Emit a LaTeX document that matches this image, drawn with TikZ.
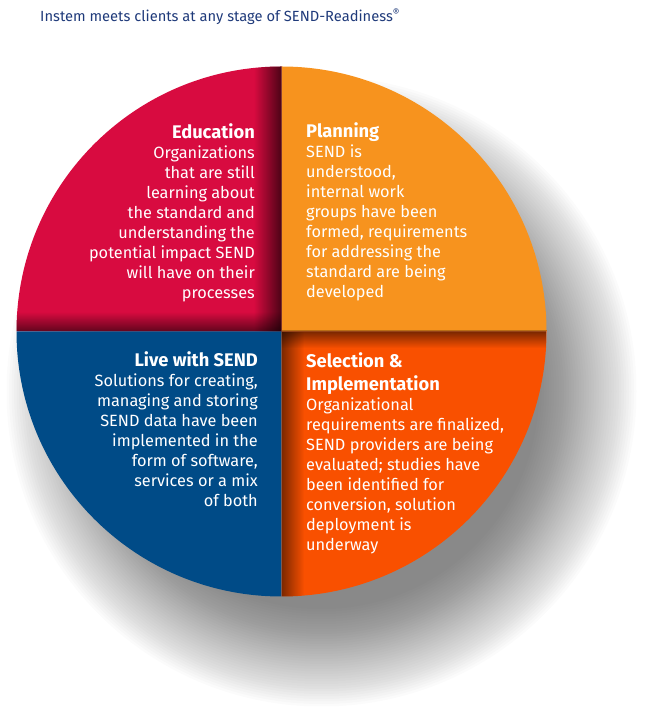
\documentclass[tikz,border=0pt]{standalone}
\usepackage{fontspec}
\setmainfont{Fira Sans}
\usetikzlibrary{fadings}
\definecolor{edured}{HTML}{D80B40}
\definecolor{planorange}{HTML}{F7931E}
\definecolor{selorange}{HTML}{F95000}
\definecolor{liveblue}{HTML}{004B87}
\definecolor{titleblue}{HTML}{1F3A7A}
\tikzset{
  stagetext/.style={text=white, inner sep=0pt, font=\fontsize{16.3}{20}\selectfont},
}
\newcommand{\stagehd}[1]{{\fontsize{18.3}{20}\selectfont\bfseries #1}}
\begin{document}
\begin{tikzpicture}[x=1pt, y=1pt]
    \useasboundingbox (0,0) rectangle (667,726);
    \coordinate (c) at (281.5,394.5);
    \coordinate (sc) at (321.5,334.5);

    % Ombra
    \foreach \i in {0,...,39}
      \fill[black, opacity=0.014] (sc) circle ({315-2.5*\i});

    % Quadranti
    \fill[edured] (c) -- ++(-265,0) arc[start angle=180, end angle=90, radius=265] -- cycle;
    \fill[planorange] (c) -- ++(0,265) arc[start angle=90, end angle=0, radius=265] -- cycle;
    \fill[liveblue] (c) -- ++(-265,0) arc[start angle=180, end angle=270, radius=265] -- cycle;
    \fill[selorange] (c) -- ++(0,-265) arc[start angle=270, end angle=360, radius=265] -- cycle;

    % Ombre interne
    \begin{scope}
      \clip (c) -- ++(-265,0) arc[start angle=180, end angle=90, radius=265] -- cycle;
      \fill[black, opacity=0.65, path fading=west] (254,394.5) rectangle (281.5,660);
      \fill[black, opacity=0.55, path fading=north] (16,394.5) rectangle (281.5,414);
    \end{scope}
    \begin{scope}
      \clip (c) -- ++(0,-265) arc[start angle=270, end angle=360, radius=265] -- cycle;
      \fill[black, opacity=0.5, path fading=east] (281.5,129) rectangle (304,394.5);
      \fill[black, opacity=0.5, path fading=south] (281.5,378) rectangle (547,394.5);
    \end{scope}
    \draw[planorange!75!black, line width=1.2pt] (281.5,395.2) -- (546.5,395.2);

    % Testi
    \node[stagetext, align=right, anchor=base east] (edu) at (255,427)
      {\stagehd{Education}\\ Organizations\\ that are still\\ learning about\\ the standard and\\
       understanding the\\ potential impact SEND\\ will have on their\\ processes};
    \node[stagetext, align=left, anchor=base west] (plan) at (306,428)
      {\stagehd{Planning}\\ SEND is\\ understood,\\ internal work\\ groups have been\\
       formed, requirements\\ for addressing the\\ standard are being\\ developed};
    \node[stagetext, align=right, anchor=base east] (live) at (258,219)
      {\stagehd{Live with SEND}\\ Solutions for creating,\\ managing and storing\\ SEND data have been\\
       implemented in the\\ form of software,\\ services or a mix\\ of both};
    \node[stagetext, align=left, anchor=base west] (sel) at (306,175)
      {\stagehd{Selection \&}\\[3pt] \stagehd{Implementation}\\ Organizational\\ requirements are finalized,\\
       SEND providers are being\\ evaluated; studies have\\ been identified for\\ conversion, solution\\
       deployment is\\ underway};

    \node[anchor=base west, inner sep=0pt, text=titleblue, font=\fontsize{14.7}{18}\selectfont] (title) at (40,704)
      {Instem meets clients at any stage of SEND-Readiness\textsuperscript{®}};
\end{tikzpicture}
\end{document}
